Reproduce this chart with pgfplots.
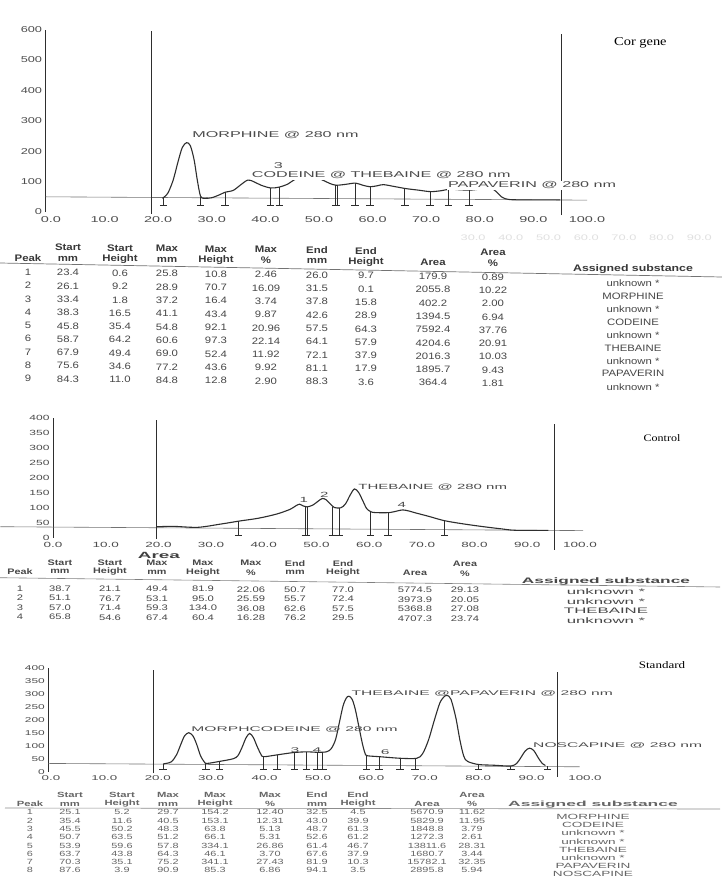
\documentclass[border=0pt]{standalone}
\usepackage{fontspec}
\setmainfont{Liberation Sans}
\newfontfamily\serif{Liberation Serif}
\usepackage{graphicx}
\usepackage{pgfplots}
\pgfplotsset{compat=1.18}

\definecolor{ink}{gray}{0.18}
\definecolor{lab}{gray}{0.30}
\definecolor{tabc}{gray}{0.28}
\definecolor{tabl}{gray}{0.40}

\pgfplotsset{
  chrom/.style={
    scale only axis, clip=false,
    axis lines*=left,
    x axis line style={draw=none},
    y axis line style={ink, line width=0.8pt},
    major tick length=0pt,
    xtick={0,10,...,100},
    tick label style={text=lab},
  },
  trace/.style={ink, line width=1.1pt, smooth, tension=0.5, mark=none},
  cuts/.style={ink, line width=0.7pt, unbounded coords=jump, mark=none},
  base/.style={black!55, line width=0.6pt, mark=none},
  win/.style={ink, line width=0.8pt, mark=none},
}

% table helpers
\newcommand\hdr[5]{%
  \foreach \a/\b [count=\k from 0] in {{}/Peak,Start/mm,Start/Height,Max/mm,Max/Height,Max/\%,End/mm,End/Height,{}/Area,Area/\%}{%
    \pgfmathsetmacro\cx{#1[\k]}%
    \pgfmathsetmacro\ya{-(#2+#4*\cx)}%
    \pgfmathsetmacro\yb{-(#3+#4*\cx)}%
    \node[#5] at (\cx pt,\ya pt) {\a};
    \node[#5] at (\cx pt,\yb pt) {\b};}}
\newcommand\trow[5]{%
  \foreach \v [count=\k from 0] in {#5}{%
    \pgfmathsetmacro\cx{#1[\k]}%
    \pgfmathsetmacro\yy{-(#2+#3*\cx)}%
    \node[#4] at (\cx pt,\yy pt) {\v};}}

\def\cA{{28,68,120,167,216,266,317,366,433,493}}
\def\cB{{20,60,110,157,203,251,295,343,415,465}}
\def\cC{{30,70,122,168,215,270,317,358,427,472}}

\begin{document}
\begin{tikzpicture}[
  t1h/.style={font=\fontsize{9.5}{10}\selectfont\bfseries, text=black!78, xscale=1.2, inner sep=0pt},
  t1v/.style={font=\fontsize{9.3}{10}\selectfont, text=tabc, xscale=1.22, inner sep=0pt},
  t2h/.style={font=\fontsize{8}{9}\selectfont\bfseries, text=black!72, xscale=1.35, inner sep=0pt},
  t2v/.style={font=\fontsize{8}{9}\selectfont, text=tabc, xscale=1.4, inner sep=0pt},
  t3h/.style={font=\fontsize{7.5}{8}\selectfont\bfseries, text=black!60, xscale=1.5, inner sep=0pt},
  t3v/.style={font=\fontsize{7.5}{8}\selectfont, text=tabl, xscale=1.45, inner sep=0pt},
]
\fill[white] (0,0) rectangle (722pt,-881pt);
\useasboundingbox (0,0) rectangle (722pt,-881pt);

% ---------------- panel 1: Cor gene ----------------
\begin{axis}[chrom,
  at={(45.6pt,-212pt)}, anchor=south west,
  width=541.4pt, height=182.5pt,
  xmin=-1, xmax=100, ymin=0, ymax=600,
  ytick={0,100,...,600},
  tick label style={font=\fontsize{8.5}{9}\selectfont},
  xticklabel={\scalebox{1.7}[1]{\pgfmathprintnumber[fixed,fixed zerofill,precision=1,assume math mode=true]{\tick}}},
  yticklabel={\scalebox{1.5}[1]{\pgfmathprintnumber[assume math mode=true]{\tick}}},
  xticklabel style={yshift=-1.5pt},
]
\addplot[base] coordinates {(-1,50) (100,39)};
\addplot[win] coordinates {(18.7,-5) (18.7,595)};
\addplot[win] coordinates {(95.2,-10) (95.2,585)};
\addplot[trace] coordinates {
(20.8,45)(21.8,62)(22.8,105)(23.7,165)(24.5,212)(25.3,228)(26.0,218)(26.7,172)
(27.3,105)(27.9,52)(28.6,45)(30.0,47)(31.5,57)(32.5,65)(34.0,71)(35.3,88)
(36.7,105)(37.8,100)(39.2,88)(41.0,79)(42.6,82)(44.2,92)(45.6,108)(47.5,115)
(49.5,112)(50.8,104)(52.0,94)(53.2,88)(55.0,91)(56.8,95)(58.2,88)(59.5,83)
(60.8,86)(62.0,90)(64.0,84)(66.2,77)(68.5,72)(70.8,67)(72.8,70)(74.4,75)
(76.3,73)(78.2,72)(80.3,76)(81.8,82)(83.0,68)(84.2,48)(85.5,41)(88,40)(92,40)(95,40)};
\addplot[cuts] coordinates {
(21.0,48)(21.0,23)(21,nan)(20.3,23)(21.7,23)(21,nan)
(27.9,50)(27.9,23)(21,nan)(27.2,23)(28.6,23)(21,nan)
(32.5,66)(32.5,23)(21,nan)(31.8,23)(33.2,23)(21,nan)
(41.0,79)(41.0,23)(21,nan)(40.3,23)(41.7,23)(21,nan)
(42.6,82)(42.6,23)(21,nan)(41.9,23)(43.3,23)(21,nan)
(53.0,88)(53.0,23)(21,nan)(53.4,88)(53.4,23)(21,nan)(52.4,23)(54.0,23)(21,nan)
(56.7,94)(56.7,23)(21,nan)(56.0,23)(57.4,23)(21,nan)
(59.5,83)(59.5,23)(21,nan)(58.8,23)(60.2,23)(21,nan)
(66.0,77)(66.0,23)(21,nan)(65.3,23)(66.7,23)(21,nan)
(70.7,67)(70.7,23)(21,nan)(70.0,23)(71.4,23)(21,nan)
(74.2,74)(74.2,23)(21,nan)(73.5,23)(74.9,23)(21,nan)
(78.0,72)(78.0,23)(21,nan)(77.3,23)(78.7,23)};
\begin{scope}[every node/.style={font=\fontsize{8.5}{9}\selectfont, text=lab, xscale=1.9, inner sep=0.6pt, anchor=west, fill=white}]
\node at (axis cs:26.1,252) {MORPHINE @ 280 nm};
\node at (axis cs:37.2,120) {CODEINE @ 280 nm};
\node at (axis cs:55.6,121) {THEBAINE @ 280 nm};
\node at (axis cs:73.8,88) {PAPAVERIN @ 280 nm};
\node[fill=none] at (axis cs:41.3,152) {3};
\end{scope}
\end{axis}
\node[font=\serif\fontsize{12}{13}\selectfont, xscale=1.2, anchor=west] at (610pt,-43pt) {Cor gene};

% ---------------- table 1 ----------------
\draw[black!55, line width=0.7pt] (0pt,-263pt) -- (722pt,-277pt);
\node[font=\fontsize{8}{9}\selectfont, text=black!12, xscale=1.6, anchor=west] at (455pt,-238pt) {30.0\quad 40.0\quad 50.0\quad 60.0\quad 70.0\quad 80.0\quad 90.0};
\hdr{\cA}{247}{258}{0.01}{t1h}
\node[t1h, xscale=1.08] at (633pt,-269pt) {Assigned substance};
\trow{\cA}{272.0}{0.01}{t1v}{1,23.4,0.6,25.8,10.8,2.46,26.0,9.7,179.9,0.89}
\trow{\cA}{285.3}{0.01}{t1v}{2,26.1,9.2,28.9,70.7,16.09,31.5,0.1,2055.8,10.22}
\trow{\cA}{298.6}{0.01}{t1v}{3,33.4,1.8,37.2,16.4,3.74,37.8,15.8,402.2,2.00}
\trow{\cA}{311.9}{0.01}{t1v}{4,38.3,16.5,41.1,43.4,9.87,42.6,28.9,1394.5,6.94}
\trow{\cA}{325.2}{0.01}{t1v}{5,45.8,35.4,54.8,92.1,20.96,57.5,64.3,7592.4,37.76}
\trow{\cA}{338.5}{0.01}{t1v}{6,58.7,64.2,60.6,97.3,22.14,64.1,57.9,4204.6,20.91}
\trow{\cA}{351.8}{0.01}{t1v}{7,67.9,49.4,69.0,52.4,11.92,72.1,37.9,2016.3,10.03}
\trow{\cA}{365.1}{0.01}{t1v}{8,75.6,34.6,77.2,43.6,9.92,81.1,17.9,1895.7,9.43}
\trow{\cA}{378.4}{0.01}{t1v}{9,84.3,11.0,84.8,12.8,2.90,88.3,3.6,364.4,1.81}
\foreach \s [count=\i from 0] in {unknown *,MORPHINE,unknown *,CODEINE,unknown *,THEBAINE,unknown *,PAPAVERIN,unknown *}{
  \pgfmathsetmacro\yy{-(283+12.96*\i)}
  \node[t1v] at (633pt,\yy pt) {\s};}

% ---------------- panel 2: Control ----------------
\begin{axis}[chrom,
  at={(53pt,-537.5pt)}, anchor=south west,
  width=527pt, height=120pt,
  xmin=0, xmax=100, ymin=0, ymax=400,
  ytick={0,50,...,400},
  tick label style={font=\fontsize{7.5}{8}\selectfont},
  xticklabel={\scalebox{1.8}[1]{\pgfmathprintnumber[fixed,fixed zerofill,precision=1,assume math mode=true]{\tick}}},
  yticklabel={\scalebox{1.6}[1]{\pgfmathprintnumber[assume math mode=true]{\tick}}},
  xticklabel style={yshift=-1pt},
]
\addplot[base] coordinates {(-10,36) (100.6,23)};
\addplot[win] coordinates {(19.7,-5) (19.7,392)};
\addplot[win] coordinates {(95.2,-40) (95.2,380)};
\addplot[trace] coordinates {
(19.7,36)(23,37)(27.5,34)(31.9,45)(35.4,55)(38.9,64)(42.4,78)(45.0,94)(46.1,106)
(46.8,111)(47.5,105)(48.2,102)(49.3,108)(50.3,121)(51.1,130)(51.8,126)(52.6,112)
(53.4,100)(54.6,99)(55.5,112)(56.4,142)(57.2,162)(58.0,150)(58.8,122)(59.5,97)
(60.3,86)(61.2,83)(63.8,83)(65.2,88)(66.4,92)(67.6,88)(68.8,82)(71.2,71)(74.3,56)
(78,45)(81.7,36)(85,29)(87.8,24)(94,24)};
\addplot[cuts] coordinates {
(35.2,54)(35.2,8)(21,nan)(34.5,8)(35.9,8)(21,nan)
(47.8,104)(47.8,8)(21,nan)(48.2,103)(48.2,8)(21,nan)(47.2,8)(48.8,8)(21,nan)
(53.0,101)(53.0,8)(21,nan)(52.3,8)(53.7,8)(21,nan)
(54.4,99)(54.4,8)(21,nan)(53.7,8)(55.1,8)(21,nan)
(60.3,85)(60.3,8)(21,nan)(59.6,8)(61.0,8)(21,nan)
(63.6,83)(63.6,8)(21,nan)(62.9,8)(64.3,8)(21,nan)
(74.3,56)(74.3,8)(21,nan)(73.6,8)(75.0,8)};
\begin{scope}[every node/.style={font=\fontsize{7.5}{8}\selectfont, text=lab, xscale=2.0, inner sep=0.5pt}]
\node[anchor=west] at (axis cs:57.7,169) {THEBAINE @ 280 nm};
\node at (axis cs:47.6,125) {1};
\node at (axis cs:51.5,142) {2};
\node at (axis cs:66.2,108) {4};
\end{scope}
\end{axis}
\node[font=\serif\fontsize{10}{11}\selectfont, xscale=1.2] at (662pt,-438pt) {Control};
\node[font=\fontsize{9}{10}\selectfont\bfseries, text=black!75, xscale=2.1, inner sep=0pt] at (159pt,-555pt) {Area};

% ---------------- table 2 ----------------
\draw[black!50, line width=0.6pt] (0pt,-577.7pt) -- (720pt,-587pt);
\hdr{\cB}{562}{571.5}{0.004}{t2h}
\node[t2h, xscale=1.6] at (606pt,-581.7pt) {Assigned substance};
\trow{\cB}{588.3}{0.004}{t2v}{1,38.7,21.1,49.4,81.9,22.06,50.7,77.0,5774.5,29.13}
\trow{\cB}{597.8}{0.004}{t2v}{2,51.1,76.7,53.1,95.0,25.59,55.7,72.4,3973.9,20.05}
\trow{\cB}{607.3}{0.004}{t2v}{3,57.0,71.4,59.3,134.0,36.08,62.6,57.5,5368.8,27.08}
\trow{\cB}{616.8}{0.004}{t2v}{4,65.8,54.6,67.4,60.4,16.28,76.2,29.5,4707.3,23.74}
\foreach \s [count=\i from 0] in {unknown *,unknown *,THEBAINE,unknown *}{
  \pgfmathsetmacro\yy{-(591.7+9.5*\i)}
  \node[t2v, xscale=1.5] at (606pt,\yy pt) {\s};}

% ---------------- panel 3: Standard ----------------
\begin{axis}[chrom,
  at={(48.3pt,-771.7pt)}, anchor=south west,
  width=536.7pt, height=103.4pt,
  xmin=-0.5, xmax=100, ymin=0, ymax=400,
  ytick={0,50,...,400},
  tick label style={font=\fontsize{7}{8}\selectfont},
  xticklabel={\scalebox{1.9}[1]{\pgfmathprintnumber[fixed,fixed zerofill,precision=1,assume math mode=true]{\tick}}},
  yticklabel={\scalebox{1.7}[1]{\pgfmathprintnumber[assume math mode=true]{\tick}}},
  xticklabel style={yshift=0pt},
]
\addplot[base] coordinates {(-0.5,32) (99,19)};
\addplot[win] coordinates {(19.2,-5) (19.2,393)};
\addplot[win] coordinates {(94.8,-20) (94.8,387)};
\addplot[trace] coordinates {
(21,30)(22.5,38)(23.5,65)(24.3,105)(25.0,138)(25.8,151)(26.6,138)(27.3,105)(28.0,62)
(28.7,38)(29.2,32)(31.6,40)(34.1,50)(35.0,62)(35.8,95)(36.5,130)(37.2,148)(37.9,132)
(38.6,98)(39.3,68)(39.8,58)(42.3,65)(45.4,74)(48,77)(49.8,75)(51.6,77)(52.5,90)
(53.3,125)(54.0,190)(54.7,255)(55.3,285)(55.8,292)(56.4,280)(57.0,240)(57.7,170)
(58.3,110)(58.8,72)(59.2,62)(61.6,58)(65.4,52)(68.5,52)(69.6,70)(70.7,123)(71.8,200)
(72.8,265)(73.6,290)(74.2,295)(74.9,280)(75.8,210)(76.6,120)(77.3,60)(78.0,40)
(80,28)(83,25)(86.1,22)(87.2,32)(88.0,55)(88.8,80)(89.6,91)(90.4,82)(91.3,52)
(92.0,32)(92.6,24)};
\addplot[cuts] coordinates {
(21.0,30)(21.0,9)(21,nan)(20.3,9)(21.7,9)(21,nan)
(29.0,35)(29.0,9)(21,nan)(28.3,9)(29.7,9)(21,nan)
(31.6,40)(31.6,9)(21,nan)(30.9,9)(32.3,9)(21,nan)
(39.8,58)(39.8,9)(21,nan)(39.1,9)(40.5,9)(21,nan)
(42.3,65)(42.3,9)(21,nan)(41.6,9)(43.0,9)(21,nan)
(45.6,74)(45.6,9)(21,nan)(44.9,9)(46.3,9)(21,nan)
(47.8,77)(47.8,9)(21,nan)(47.1,9)(48.5,9)(21,nan)
(49.8,75)(49.8,9)(21,nan)(49.1,9)(50.5,9)(21,nan)
(50.9,76)(50.9,9)(21,nan)(50.4,9)(51.6,9)(21,nan)
(59.1,62)(59.1,9)(21,nan)(58.4,9)(59.8,9)(21,nan)
(61.4,58)(61.4,9)(21,nan)(60.7,9)(62.1,9)(21,nan)
(65.4,52)(65.4,9)(21,nan)(64.7,9)(66.1,9)(21,nan)
(68.2,52)(68.2,9)(21,nan)(67.5,9)(68.9,9)(21,nan)
(80.1,28)(80.1,9)(21,nan)(79.4,9)(80.8,9)(21,nan)
(86.1,22)(86.1,9)(21,nan)(85.4,9)(86.8,9)(21,nan)
(93.0,22)(93.0,9)(21,nan)(92.3,9)(93.7,9)};
\begin{scope}[every node/.style={font=\fontsize{6.8}{7}\selectfont, text=lab, xscale=2.3, inner sep=0.5pt}]
\node[anchor=west] at (axis cs:26.0,164) {MORPHCODEINE @ 280 nm};
\node[anchor=west] at (axis cs:56.0,303) {THEBAINE @PAPAVERIN @ 280 nm};
\node[anchor=west] at (axis cs:90.0,100) {NOSCAPINE @ 280 nm};
\node at (axis cs:45.7,84) {3};
\node at (axis cs:49.8,84) {4};
\node at (axis cs:62.6,77) {6};
\end{scope}
\end{axis}
\node[font=\serif\fontsize{10}{11}\selectfont, xscale=1.3] at (662pt,-665pt) {Standard};

% ---------------- table 3 ----------------
\draw[black!45, line width=0.6pt] (5pt,-808pt) -- (720pt,-809pt);
\hdr{\cC}{795}{804}{0}{t3h}
\node[t3h, xscale=1.55] at (593pt,-805pt) {Assigned substance};
\trow{\cC}{812.3}{0}{t3v}{1,25.1,5.2,29.7,154.2,12.40,32.5,4.5,5670.9,11.62}
\trow{\cC}{820.6}{0}{t3v}{2,35.4,11.6,40.5,153.1,12.31,43.0,39.9,5829.9,11.95}
\trow{\cC}{828.9}{0}{t3v}{3,45.5,50.2,48.3,63.8,5.13,48.7,61.3,1848.8,3.79}
\trow{\cC}{837.2}{0}{t3v}{4,50.7,63.5,51.2,66.1,5.31,52.6,61.2,1272.3,2.61}
\trow{\cC}{845.5}{0}{t3v}{5,53.9,59.6,57.8,334.1,26.86,61.4,46.7,13811.6,28.31}
\trow{\cC}{853.8}{0}{t3v}{6,63.7,43.8,64.3,46.1,3.70,67.6,37.9,1680.7,3.44}
\trow{\cC}{862.1}{0}{t3v}{7,70.3,35.1,75.2,341.1,27.43,81.9,10.3,15782.1,32.35}
\trow{\cC}{870.4}{0}{t3v}{8,87.6,3.9,90.9,85.3,6.86,94.1,3.5,2895.8,5.94}
\foreach \s [count=\i from 0] in {MORPHINE,CODEINE,unknown *,unknown *,THEBAINE,unknown *,PAPAVERIN,NOSCAPINE}{
  \pgfmathsetmacro\yy{-(816.9+8.2*\i)}
  \node[t3v, xscale=1.25] at (593pt,\yy pt) {\s};}
\end{tikzpicture}
\end{document}
